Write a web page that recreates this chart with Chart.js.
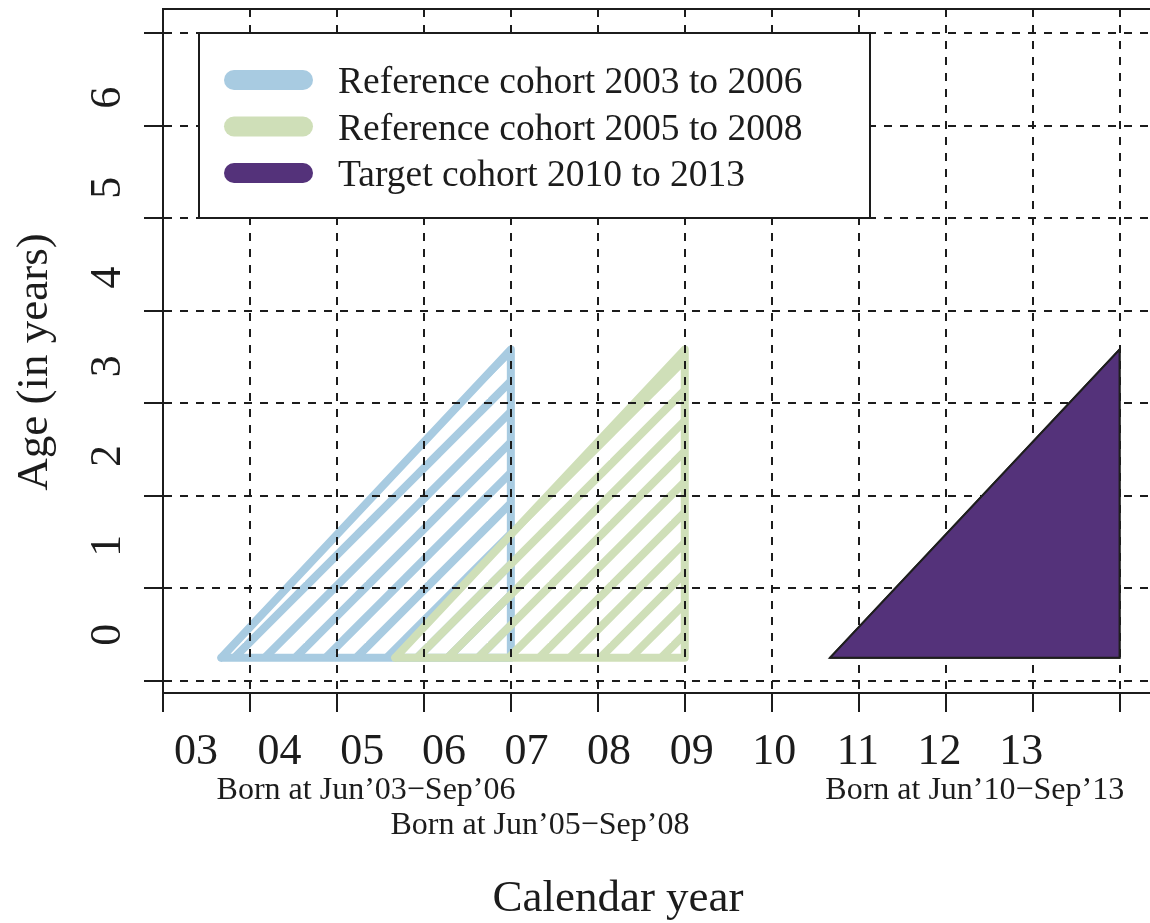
<!DOCTYPE html>
<html>
<head>
<meta charset="utf-8">
<title>Lexis diagram</title>
<script src="https://cdn.jsdelivr.net/npm/chart.js@4.4.1/dist/chart.umd.min.js"></script>
<style>
    html, body { margin: 0; padding: 0; background: #fff; }
    #wrap { width: 1150px; height: 923px; }
</style>
</head>
<body>
<div id="wrap"><canvas id="lexisChart" width="1150" height="923"></canvas></div>
<script>
// cohorts: calendar time in decimal years, age in years
var cohortLabels = ['Reference cohort 2003 to 2006', 'Reference cohort 2005 to 2008', 'Target cohort 2010 to 2013'];
var birthStart = [2003.42, 2005.42, 2010.42];
var birthEnd = [2006.75, 2008.75, 2013.75];
var ageAtEnd = [3.33, 3.33, 3.33];
var bornLabels = ['Born at Jun\u201903\u2212Sep\u201906', 'Born at Jun\u201905\u2212Sep\u201908', 'Born at Jun\u201910\u2212Sep\u201913'];

// axes
var xGrid = [2002.75, 2003.75, 2004.75, 2005.75, 2006.75, 2007.75, 2008.75, 2009.75, 2010.75, 2011.75, 2012.75, 2013.75];
var xTickLabels = ['03', '04', '05', '06', '07', '08', '09', '10', '11', '12', '13'];
var xLabelAt = [2003.13, 2004.09, 2005.04, 2005.98, 2006.93, 2007.88, 2008.83, 2009.78, 2010.74, 2011.68, 2012.62];
var yGrid = [-0.25, 0.75, 1.75, 2.75, 3.75, 4.75, 5.75, 6.75];
var yTickLabels = ['0', '1', '2', '3', '4', '5', '6'];
var yLabelAt = [0.25, 1.21, 2.18, 3.15, 4.11, 5.08, 6.05];

var SERIF = '"Liberation Serif", "DejaVu Serif", serif';
var INK = '#1c1c1c';

// diagonal hatching, 45 degrees, same phase for every polygon
function hatch(color) {
    var c = document.createElement('canvas');
    c.width = 61;
    c.height = 61;
    var g = c.getContext('2d');
    g.strokeStyle = color;
    g.lineWidth = 8;
    [7.5, 38, 68.5, 99].forEach(function (k) {
        g.beginPath();
        g.moveTo(k + 20, -20);
        g.lineTo(-20, k + 20);
        g.stroke();
    });
    return g.createPattern(c, 'repeat');
}

var styles = [
    { line: '#a8cbe1', fill: hatch('#a8cbe1'), width: 8, join: 'round', legend: '#a8cbe1' },
    { line: '#cfdfb8', fill: hatch('#cfdfb8'), width: 8, join: 'round', legend: '#cfdfb8' },
    { line: '#1e1e1e', fill: '#54327a', width: 2, join: 'miter', legend: '#54327a' }
];

var datasets = cohortLabels.map(function (lab, i) {
    return {
        label: lab,
        data: [
            { x: birthStart[i], y: 0 },
            { x: birthEnd[i], y: 0 },
            { x: birthEnd[i], y: ageAtEnd[i] },
            { x: birthStart[i], y: 0 }
        ],
        fill: 'shape',
        backgroundColor: styles[i].fill,
        borderColor: styles[i].line,
        borderWidth: styles[i].width,
        borderJoinStyle: styles[i].join,
        borderCapStyle: 'round',
        pointRadius: 0,
        tension: 0,
        order: 3 - i
    };
});

var textPlugin = {
    id: 'lexisText',
    afterDraw: function (chart) {
        var ctx = chart.ctx;
        var area = chart.chartArea;
        var xs = chart.scales.x;
        var ys = chart.scales.y;
        ctx.save();

        // target cohort sits above the dashed grid
        var target = chart.getDatasetMeta(2).dataset;
        ctx.save();
        ctx.beginPath();
        target.path(ctx);
        ctx.closePath();
        ctx.fillStyle = styles[2].fill;
        ctx.fill();
        ctx.lineWidth = styles[2].width;
        ctx.lineJoin = 'miter';
        ctx.strokeStyle = styles[2].line;
        ctx.stroke();
        ctx.restore();

        // top frame
        ctx.strokeStyle = INK;
        ctx.lineWidth = 2;
        ctx.beginPath();
        ctx.moveTo(area.left, area.top);
        ctx.lineTo(area.right, area.top);
        ctx.stroke();

        ctx.fillStyle = INK;
        ctx.textBaseline = 'alphabetic';

        // x tick labels
        ctx.font = '44px ' + SERIF;
        ctx.textAlign = 'center';
        xTickLabels.forEach(function (t, i) {
            ctx.fillText(t, xs.getPixelForValue(xLabelAt[i]), 764);
        });

        // y tick labels, parallel to the axis
        yTickLabels.forEach(function (t, i) {
            ctx.save();
            ctx.translate(120, ys.getPixelForValue(yLabelAt[i]));
            ctx.rotate(-Math.PI / 2);
            ctx.fillText(t, 0, 0);
            ctx.restore();
        });

        // birth period under each cohort
        var rows = [799, 834, 799];
        ctx.font = '32px ' + SERIF;
        bornLabels.forEach(function (t, i) {
            var mid = (birthStart[i] + birthEnd[i]) / 2;
            ctx.fillText(t, xs.getPixelForValue(mid), rows[i]);
        });

        // axis titles
        ctx.font = '45px ' + SERIF;
        ctx.fillText('Calendar year', 618, 911);
        ctx.save();
        ctx.translate(47, 362);
        ctx.rotate(-Math.PI / 2);
        ctx.fillText('Age (in years)', 0, 0);
        ctx.restore();

        // legend
        ctx.fillStyle = '#fff';
        ctx.fillRect(199, 33, 671, 185);
        ctx.strokeStyle = INK;
        ctx.lineWidth = 2;
        ctx.strokeRect(199, 33, 671, 185);
        ctx.font = '37.5px ' + SERIF;
        ctx.textAlign = 'left';
        cohortLabels.forEach(function (lab, i) {
            var cy = 80 + i * 46.5;
            ctx.strokeStyle = styles[i].legend;
            ctx.lineWidth = 20;
            ctx.lineCap = 'round';
            ctx.beginPath();
            ctx.moveTo(234, cy);
            ctx.lineTo(303, cy);
            ctx.stroke();
            ctx.fillStyle = INK;
            ctx.fillText(lab, 338, cy + 13);
        });

        ctx.restore();
    }
};

function axisOptions(extra) {
    var o = {
        type: 'linear',
        ticks: { display: false },
        border: { display: true, color: INK, width: 2, dash: [8, 8], z: 2 },
        grid: {
            z: 1,
            color: INK,
            lineWidth: 2,
            drawTicks: true,
            tickLength: 19,
            tickWidth: 2,
            tickColor: INK,
            tickBorderDash: []
        }
    };
    return Object.assign(o, extra);
}

var ctx = document.getElementById('lexisChart').getContext('2d');
var lexisChart = new Chart(ctx, {
    type: 'line',
    data: { datasets: datasets },
    options: {
        responsive: false,
        animation: false,
        layout: { padding: { top: 9, right: 0, bottom: 0, left: 0 } },
        scales: {
            x: axisOptions({
                min: 2002.75,
                max: 2014.1,
                afterBuildTicks: function (axis) {
                    axis.ticks = xGrid.map(function (v) { return { value: v }; });
                },
                afterFit: function (axis) { axis.height = 230; }
            }),
            y: axisOptions({
                min: -0.38,
                max: 7.01,
                afterBuildTicks: function (axis) {
                    axis.ticks = yGrid.map(function (v) { return { value: v }; });
                },
                afterFit: function (axis) { axis.width = 163; }
            })
        },
        plugins: {
            legend: { display: false },
            tooltip: { enabled: false }
        }
    },
    plugins: [textPlugin]
});
</script>
</body>
</html>
